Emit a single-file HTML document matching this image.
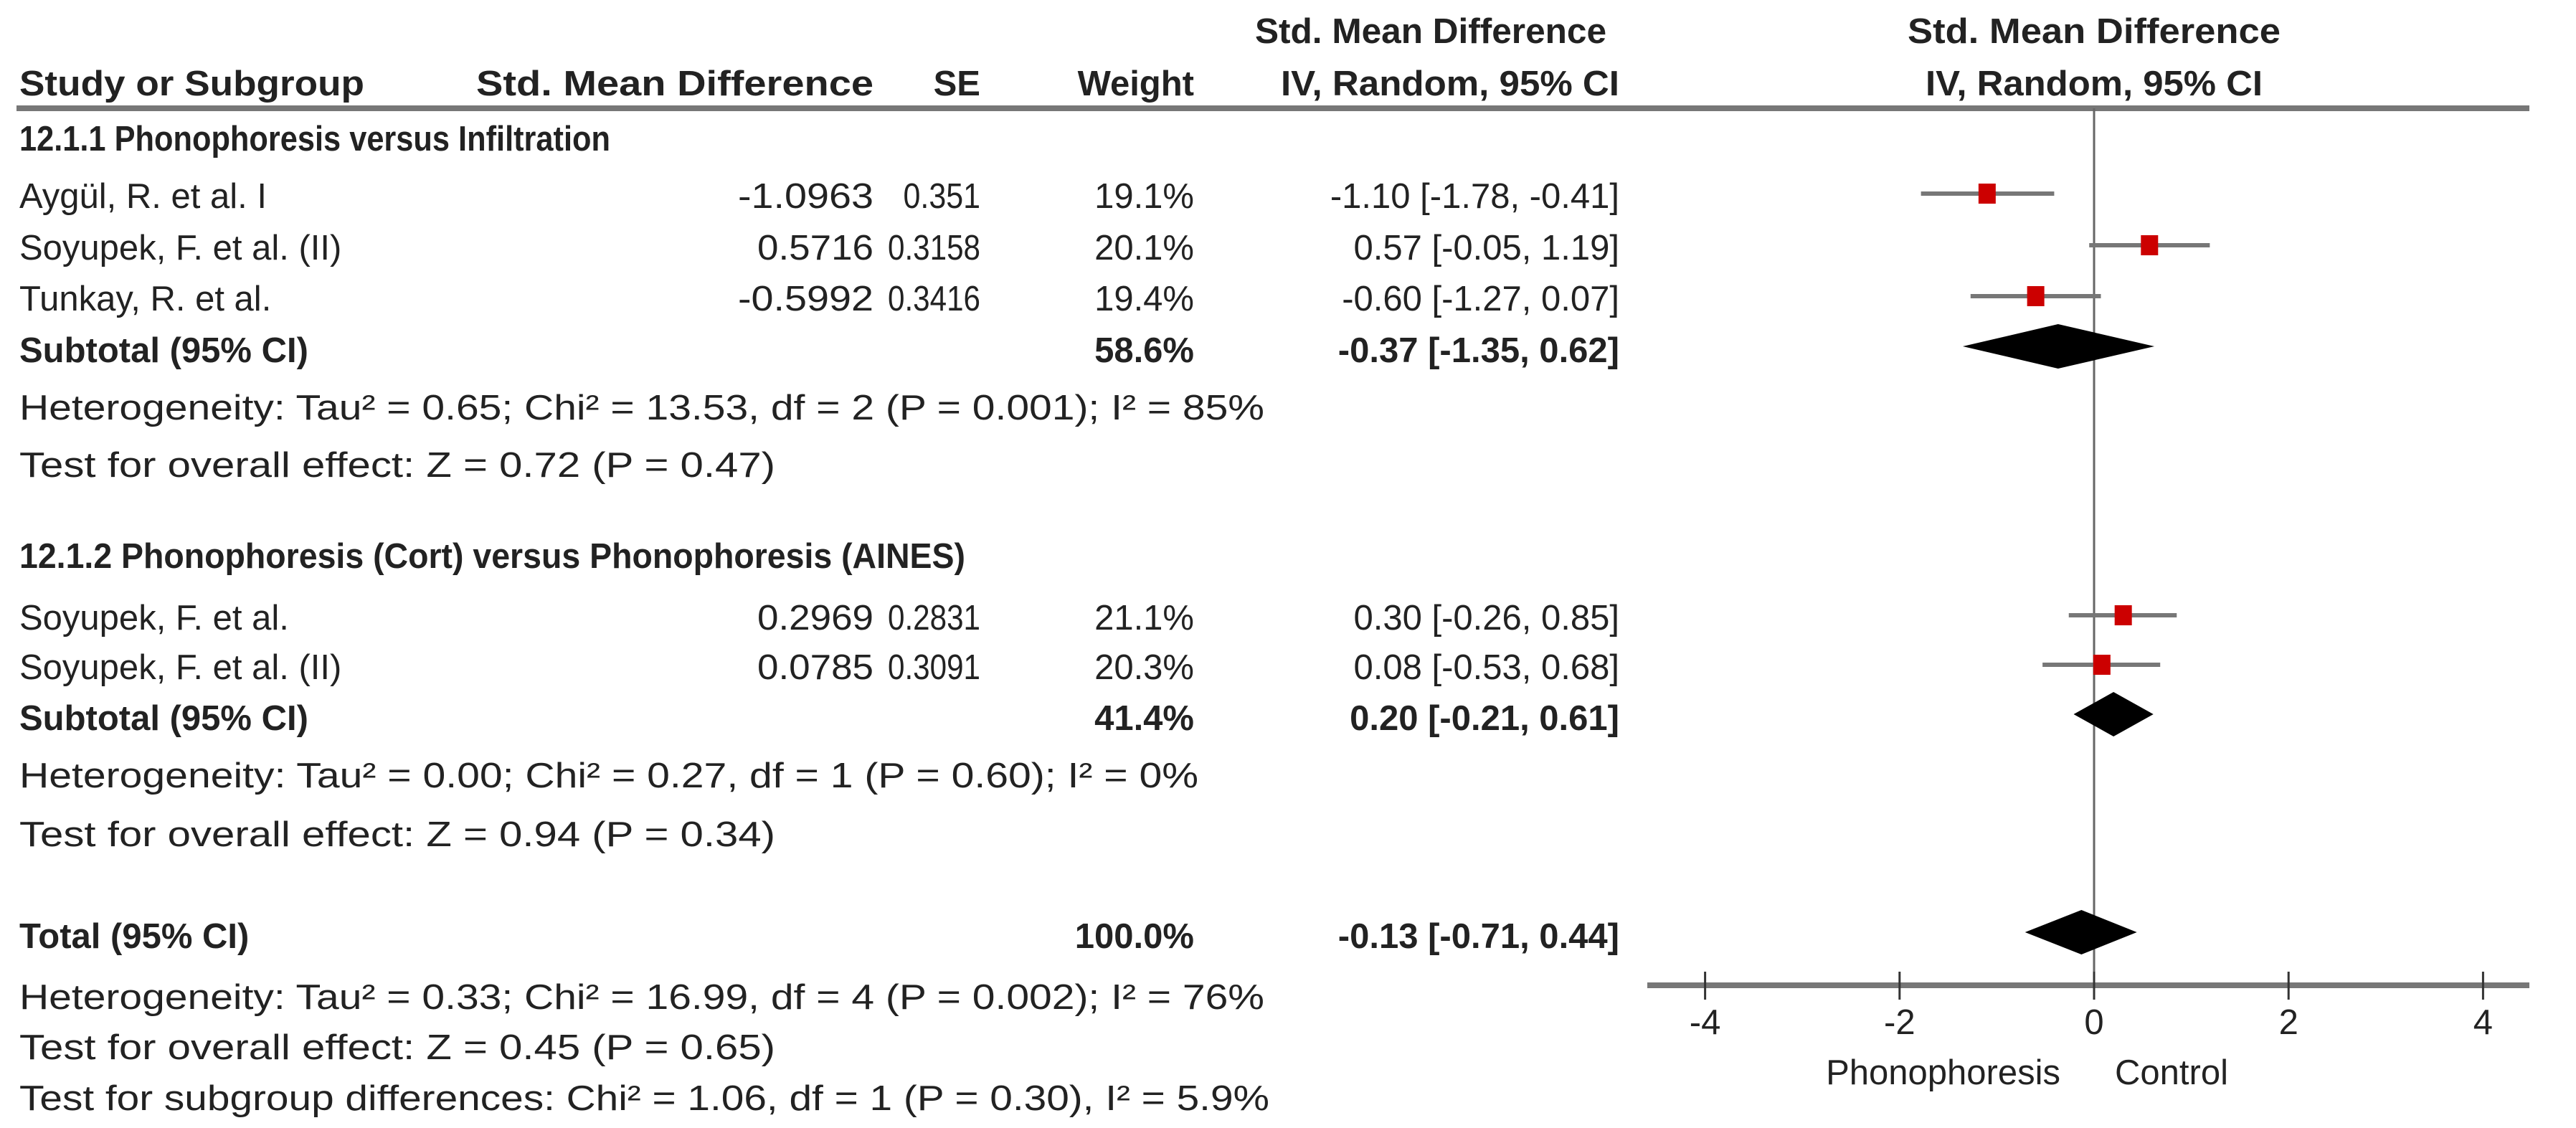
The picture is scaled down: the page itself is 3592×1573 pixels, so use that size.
<!DOCTYPE html>
<html><head><meta charset="utf-8"><style>
html,body{margin:0;padding:0;background:#fff;}
svg{display:block;}
text{font-family:"Liberation Sans",Arial,sans-serif;fill:#222;}
.b{font-weight:bold;}
</style></head><body>
<svg id="chart" width="3592" height="1573" viewBox="0 0 3592 1573">
<g id="tbl" font-size="49"></g>
<g id="plot"></g>
</svg>
<script>
// ---- data ----
const studies = ["Aygül, R. et al. I","Soyupek, F. et al. (II)","Tunkay, R. et al.","Soyupek, F. et al.","Soyupek, F. et al. (II)"];
const smdValues = [-1.0963, 0.5716, -0.5992, 0.2969, 0.0785];
const seValues = ["0.351","0.3158","0.3416","0.2831","0.3091"];
const weights = ["19.1%","20.1%","19.4%","21.1%","20.3%"];
const estimates = [-1.10, 0.57, -0.60, 0.30, 0.08];
const lowers = [-1.78, -0.05, -1.27, -0.26, -0.53];
const uppers = [-0.41, 1.19, 0.07, 0.85, 0.68];
const summaryLabels = ["Subtotal (95% CI)","Subtotal (95% CI)","Total (95% CI)"];
const summaryWeights = ["58.6%","41.4%","100.0%"];
const summaryEst = [-0.37, 0.20, -0.13];
const summaryLow = [-1.35, -0.21, -0.71];
const summaryHigh = [0.62, 0.61, 0.44];
const xTicks = [-4, -2, 0, 2, 4];

const NS = "http://www.w3.org/2000/svg";
const X0 = 2920, UNIT = 135.6;
const xs = v => X0 + v * UNIT;
const fmt = v => (v < 0 ? "-" : "") + Math.abs(v).toFixed(2);
const ci = (e,l,h) => fmt(e) + " [" + fmt(l) + ", " + fmt(h) + "]";

function mk(parent, tag, attrs, txt){
  const el = document.createElementNS(NS, tag);
  for (const k in attrs) el.setAttribute(k, attrs[k]);
  if (txt !== undefined) el.textContent = txt;
  parent.appendChild(el);
  return el;
}
const tbl = document.getElementById('tbl');
const plot = document.getElementById('plot');

function txt(x, y, s, opts){
  opts = opts || {};
  const a = {x:x, y:y};
  if (opts.anchor) a['text-anchor'] = opts.anchor;
  if (opts.bold) a['class'] = 'b';
  if (opts.len){ a.textLength = opts.len; a.lengthAdjust = 'spacingAndGlyphs'; }
  if (opts.fill) a.fill = opts.fill;
  if (opts.size) a['font-size'] = opts.size;
  const t = mk(tbl, 'text', a, s);
  
  
  return t;
}

// headers
txt(2240, 60, "Std. Mean Difference", {anchor:'end', bold:true, len:490, name:'header-smd-ci-top'});
txt(2920, 60, "Std. Mean Difference", {anchor:'middle', bold:true, len:520, name:'header-plot-top'});
txt(27, 133, "Study or Subgroup", {bold:true, len:481, name:'header-study'});
txt(664, 133, "Std. Mean Difference", {bold:true, len:554, name:'header-smd'});
txt(1367, 133, "SE", {anchor:'end', bold:true, name:'header-se'});
txt(1665, 133, "Weight", {anchor:'end', bold:true, name:'header-weight'});
txt(2258, 133, "IV, Random, 95% CI", {anchor:'end', bold:true, len:472, name:'header-ci'});
txt(2920, 133, "IV, Random, 95% CI", {anchor:'middle', bold:true, len:470, name:'header-plot-ci'});

const hl = mk(plot, 'line', {x1:23, x2:3527, y1:151, y2:151, stroke:'#777', 'stroke-width':8});



// zero line
const zl = mk(plot, 'line', {x1:xs(0), x2:xs(0), y1:151, y2:1374, stroke:'#666', 'stroke-width':3});



// subgroup headings
txt(27, 210, "12.1.1 Phonophoresis versus Infiltration", {bold:true, len:824, name:'subgroup-1-title'});
txt(27, 792, "12.1.2 Phonophoresis (Cort) versus Phonophoresis (AINES)", {bold:true, len:1319, name:'subgroup-2-title'});

const studyBase = [290, 362, 433, 878, 947];
studies.forEach((s, i) => {
  const y = studyBase[i];
  txt(27, y, s, {name:'study-name'});
  const sm = smdValues[i].toFixed(4);
  txt(1218, y, sm, {anchor:'end', len: sm.length * 27, name:'study-smd'});
  txt(1367, y, seValues[i], {anchor:'end', len: seValues[i].length * 21.5, name:'study-se'});
  txt(1665, y, weights[i], {anchor:'end', name:'study-weight'});
  txt(2258, y, ci(estimates[i], lowers[i], uppers[i]), {anchor:'end', name:'study-ci'});
  const cy = y - 20;
  const w = mk(plot, 'line', {x1:xs(lowers[i]), x2:xs(uppers[i]), y1:cy, y2:cy, stroke:'#777', 'stroke-width':6});
  
  
  const sq = mk(plot, 'rect', {x:xs(estimates[i]) - 12, y:cy - 14, width:24, height:28, fill:'#cc0000'});
  
  
});

const sumBase = [505, 1018, 1322];
summaryLabels.forEach((s, i) => {
  const y = sumBase[i];
  txt(27, y, s, {bold:true, name:'summary-label'});
  txt(1665, y, summaryWeights[i], {anchor:'end', bold:true, name:'summary-weight'});
  txt(2258, y, ci(summaryEst[i], summaryLow[i], summaryHigh[i]), {anchor:'end', bold:true, name:'summary-ci'});
  const cy = y - 22;
  const pts = [[xs(summaryLow[i]), cy],[xs(summaryEst[i]), cy - 31],[xs(summaryHigh[i]), cy],[xs(summaryEst[i]), cy + 31]].map(p => p.join(',')).join(' ');
  const d = mk(plot, 'polygon', {points:pts, fill:'#000'});
  
  
});

// footnotes
txt(27, 585, "Heterogeneity: Tau² = 0.65; Chi² = 13.53, df = 2 (P = 0.001); I² = 85%", {len:1736, name:'heterogeneity-1'});
txt(27, 665, "Test for overall effect: Z = 0.72 (P = 0.47)", {len:1054, name:'overall-effect-1'});
txt(27, 1098, "Heterogeneity: Tau² = 0.00; Chi² = 0.27, df = 1 (P = 0.60); I² = 0%", {len:1644, name:'heterogeneity-2'});
txt(27, 1180, "Test for overall effect: Z = 0.94 (P = 0.34)", {len:1054, name:'overall-effect-2'});
txt(27, 1407, "Heterogeneity: Tau² = 0.33; Chi² = 16.99, df = 4 (P = 0.002); I² = 76%", {len:1736, name:'heterogeneity-total'});
txt(27, 1477, "Test for overall effect: Z = 0.45 (P = 0.65)", {len:1054, name:'overall-effect-total'});
txt(27, 1548, "Test for subgroup differences: Chi² = 1.06, df = 1 (P = 0.30), I² = 5.9%", {len:1743, name:'subgroup-differences'});

// axis
const ax = mk(plot, 'line', {x1:2297, x2:3527, y1:1374, y2:1374, stroke:'#777', 'stroke-width':8});


xTicks.forEach(v => {
  const t = mk(plot, 'line', {x1:xs(v), x2:xs(v), y1:1355, y2:1394, stroke:'#333', 'stroke-width':3});
  
  
  txt(xs(v), 1442, String(v), {anchor:'middle', name:'x-tick-label'});
});
txt(2873, 1512, "Phonophoresis", {anchor:'end', fill:'#444', name:'favours-left-label'});
txt(2949, 1512, "Control", {fill:'#444', name:'favours-right-label'});
</script>
</body></html>
